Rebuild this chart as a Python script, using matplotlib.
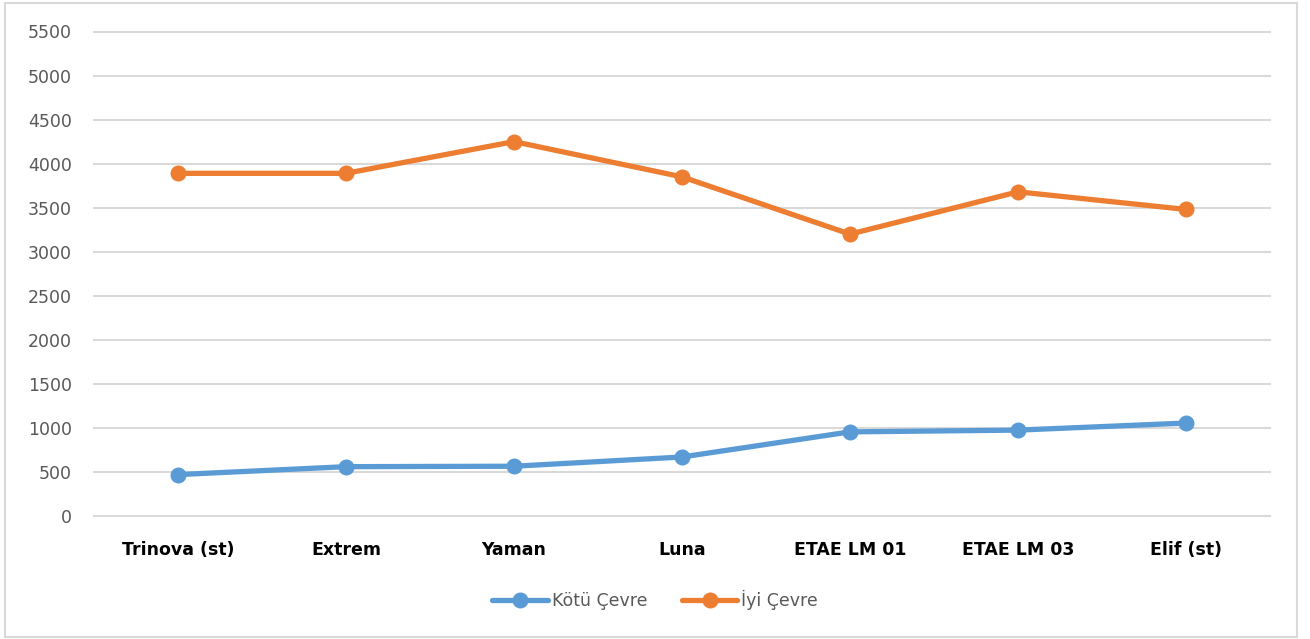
import matplotlib
matplotlib.use("Agg")
import matplotlib.pyplot as plt
from matplotlib.patches import Rectangle

categories = ["Trinova (st)", "Extrem", "Yaman", "Luna", "ETAE LM 01", "ETAE LM 03", "Elif (st)"]
kotu_cevre = [470, 560, 565, 670, 955, 975, 1055]
iyi_cevre = [3890, 3890, 4250, 3850, 3200, 3680, 3480]
series_names = ["Kötü Çevre", "İyi Çevre"]
y_ticks = list(range(0, 5501, 500))

plt.rcParams['font.family'] = ['DejaVu Sans']

fig = plt.figure(figsize=(13.10, 6.39), dpi=100)
ax = fig.add_axes([94/1310, 1 - 516/639, 1176/1310, (516 - 31.5)/639])

x = list(range(len(categories)))
ax.plot(x, kotu_cevre, color="#5B9BD5", lw=3.8, marker="o", ms=10.5,
        label=series_names[0], solid_capstyle="round", zorder=3)
ax.plot(x, iyi_cevre, color="#ED7D31", lw=3.8, marker="o", ms=10.5,
        label=series_names[1], solid_capstyle="round", zorder=3)

ax.set_xlim(-0.5, len(categories) - 0.5)
ax.set_ylim(0, 5500)
ax.set_yticks(y_ticks)
ax.set_yticklabels([str(v) for v in y_ticks], color="#595959", fontsize=12.5)
ax.set_xticks(x)
ax.set_xticklabels(categories, fontsize=12.5, fontweight="bold", color="black")
ax.tick_params(axis="y", length=0, pad=16)
ax.tick_params(axis="x", length=0, pad=18)
ax.grid(axis="y", color="#D9D9D9", lw=1.5)
for gl in ax.get_ygridlines():
    gl.set_clip_on(False)
ax.set_axisbelow(True)
for s in ax.spines.values():
    s.set_visible(False)

leg = fig.legend(loc="center", bbox_to_anchor=(655/1310, 1 - 600/639), ncol=2,
                 frameon=False, fontsize=12.5, handlelength=3.2, columnspacing=2.0,
                 handletextpad=0.2)
for t in leg.get_texts():
    t.set_color("#595959")

fig.patches.append(Rectangle((5/1310, 2/639), 1292/1310, 634/639, transform=fig.transFigure,
                             fill=False, edgecolor="#D9D9D9", lw=1.5))

fig.savefig("out.png", dpi=100)
